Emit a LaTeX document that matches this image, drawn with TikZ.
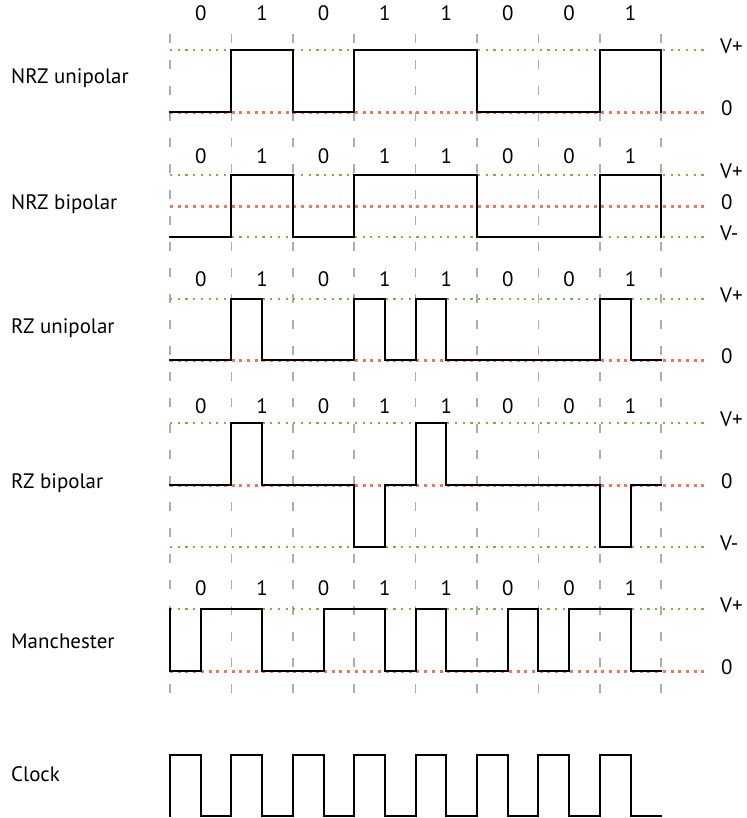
\documentclass[tikz,border=0pt]{standalone}
\usepackage{fontspec}
\setmainfont{PT Sans}
\definecolor{dotgreen}{RGB}{110,188,62}
\definecolor{dotred}{RGB}{244,118,86}
\definecolor{gridgray}{RGB}{172,172,172}
\begin{document}
\begin{tikzpicture}[x=1bp,y=-1bp,
  sig/.style={line width=2bp, black, line join=miter, line cap=rect},
  gridline/.style={line width=1.6bp, gridgray, dash pattern=on 9bp off 17bp},
  hidot/.style={line width=2.2bp, dotgreen, dash pattern=on 2.2bp off 5.5bp},
  zerodot/.style={line width=3bp, dotred, dash pattern=on 3bp off 4.7bp},
  txt/.style={font=\fontsize{21}{24}\selectfont, inner sep=0pt, text height=0.7em, text depth=0pt},
  rowlab/.style={txt, anchor=west},
  lvl/.style={txt, anchor=west},
  bitlab/.style={txt, anchor=center}]
\useasboundingbox (0,0) rectangle (747,818);
\begin{scope}[x=61.4bp, xshift=170bp]
  % grid
  \foreach \i in {0,...,8} \draw[gridline] (\i,34) -- (\i,700);
  % level lines
  \draw[hidot] (0,50) -- (8.75,50);
  \draw[zerodot] (0,112) -- (8.75,112);
  \draw[hidot] (0,175) -- (8.75,175);
  \draw[zerodot] (0,206) -- (8.75,206);
  \draw[hidot] (0,237) -- (8.75,237);
  \draw[hidot] (0,299) -- (8.75,299);
  \draw[zerodot] (0,360) -- (8.75,360);
  \draw[hidot] (0,423) -- (8.75,423);
  \draw[zerodot] (0,485) -- (8.75,485);
  \draw[hidot] (0,547) -- (8.75,547);
  \draw[hidot] (0,609) -- (8.75,609);
  \draw[zerodot] (0,671) -- (8.75,671);
  % bit labels
  \foreach \y/\r in {17/a,160/b,283/c,410/d,592/e}
    \foreach \b [count=\i from 0] in {0,1,0,1,1,0,0,1}
      \node[bitlab] (bit-\r-\i) at ({\i+0.5},\y) {\b};
  % NRZ unipolar
  \draw[sig] (0,112) -- (1,112) -- (1,50) -- (2,50) -- (2,112) -- (3,112) -- (3,50) -- (5,50) -- (5,112) -- (7,112) -- (7,50) -- (8,50) -- (8,112);
  % NRZ bipolar
  \draw[sig] (0,237) -- (1,237) -- (1,175) -- (2,175) -- (2,237) -- (3,237) -- (3,175) -- (5,175) -- (5,237) -- (7,237) -- (7,175) -- (8,175) -- (8,237);
  % RZ unipolar
  \draw[sig] (0,360) -- (1,360) -- (1,299) -- (1.5,299) -- (1.5,360) -- (3,360) -- (3,299) -- (3.5,299) -- (3.5,360) -- (4,360) -- (4,299) -- (4.5,299) -- (4.5,360) -- (7,360) -- (7,299) -- (7.5,299) -- (7.5,360) -- (8,360);
  % RZ bipolar
  \draw[sig] (0,485) -- (1,485) -- (1,423) -- (1.5,423) -- (1.5,485) -- (3,485) -- (3,547) -- (3.5,547) -- (3.5,485) -- (4,485) -- (4,423) -- (4.5,423) -- (4.5,485) -- (7,485) -- (7,547) -- (7.5,547) -- (7.5,485) -- (8,485);
  % Manchester
  \draw[sig] (0,609) -- (0,671) -- (0.5,671) -- (0.5,609) -- (1.5,609) -- (1.5,671) -- (2.5,671) -- (2.5,609) -- (3.5,609) -- (3.5,671) -- (4,671) -- (4,609) -- (4.5,609) -- (4.5,671) -- (5.5,671) -- (5.5,609) -- (6,609) -- (6,671) -- (6.5,671) -- (6.5,609) -- (7.5,609) -- (7.5,671) -- (8,671);
  % Clock
  \draw[sig] (0,816) \foreach \i in {0,...,7}{ -- (\i,755) -- ({\i+0.5},755) -- ({\i+0.5},816) -- ({\i+1},816)};
\end{scope}
% row labels
\node[rowlab] (l1) at (11,80) {NRZ unipolar};
\node[rowlab] (l2) at (11,206) {NRZ bipolar};
\node[rowlab] (l3) at (11,330) {RZ unipolar};
\node[rowlab] (l4) at (11,485) {RZ bipolar};
\node[rowlab] (l5) at (11,645) {Manchester};
\node[rowlab] (l6) at (11,778) {Clock};
% level labels
\node[lvl] (v1a) at (720,50) {V+};
\node[lvl] (v1b) at (721,112) {0};
\node[lvl] (v2a) at (720,175) {V+};
\node[lvl] (v2b) at (721,206) {0};
\node[lvl] (v2c) at (720,237) {V-};
\node[lvl] (v3a) at (720,299) {V+};
\node[lvl] (v3b) at (721,360) {0};
\node[lvl] (v4a) at (720,423) {V+};
\node[lvl] (v4b) at (721,485) {0};
\node[lvl] (v4c) at (720,547) {V-};
\node[lvl] (v5a) at (720,609) {V+};
\node[lvl] (v5b) at (721,671) {0};
\end{tikzpicture}
\end{document}
